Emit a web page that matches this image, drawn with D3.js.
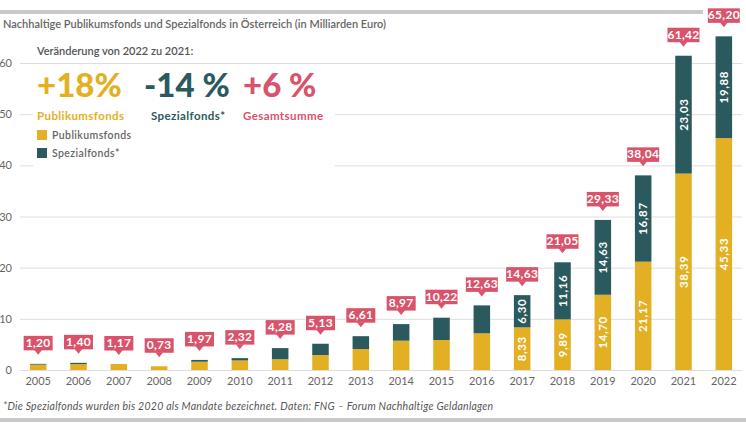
<!DOCTYPE html>
<html><head><meta charset="utf-8">
<script src="https://cdn.jsdelivr.net/npm/d3@7"></script>
<style>
html,body{margin:0;padding:0;background:#fff;}
svg{display:block;font-family:Lato,"Open Sans",sans-serif;}
</style></head>
<body><svg id="c" width="746" height="426"></svg>
<script>
const years = ["2005","2006","2007","2008","2009","2010","2011","2012","2013","2014","2015","2016","2017","2018","2019","2020","2021","2022"];
const publikum = [1.05,1.15,1.17,0.73,1.62,1.87,2.10,2.93,4.10,5.73,5.86,7.17,8.33,9.89,14.70,21.17,38.39,45.33];
const spezial  = [0.15,0.25,0.00,0.00,0.35,0.45,2.18,2.20,2.51,3.24,4.36,5.46,6.30,11.16,14.63,16.87,23.03,19.88];
const totals   = [1.20,1.40,1.17,0.73,1.97,2.32,4.28,5.13,6.61,8.97,10.22,12.63,14.63,21.05,29.33,38.04,61.42,65.20];
const segLabelFrom = "2017";
const yTicks = [0,10,20,30,40,50,60];

const YEL="#e3b024", TEAL="#2b5a5e", PINK="#d9536b", GRID="#dedede", GREY="#666";
const svg = d3.select("#c");
const fmt = v => d3.format(".2f")(v).replace(".", ",");

const x = d3.scaleBand().domain(years).range([18,744]).paddingInner(0.59).paddingOuter(0.295);
const y = d3.scaleLinear().domain([0,60]).range([370,63]);

// top/bottom grey rules
svg.append("rect").attr("x",0).attr("y",10).attr("width",703).attr("height",4).attr("fill","#c8c8c8");
svg.append("rect").attr("x",0).attr("y",418).attr("width",746).attr("height",4).attr("fill","#c8c8c8");

// title
svg.append("text").attr("x",3).attr("y",28).attr("font-size",11).attr("font-weight",600).attr("fill",GREY)
  .text("Nachhaltige Publikumsfonds und Spezialfonds in Österreich (in Milliarden Euro)");

// grid + y axis
const yAxis = d3.axisLeft(y).tickValues(yTicks).tickSize(-722).tickFormat(d=>d);
const ga = svg.append("g").attr("transform","translate(20,0)").call(yAxis);
ga.select(".domain").remove();
ga.selectAll(".tick line").attr("stroke",GRID).attr("stroke-width",1);
ga.selectAll(".tick text").attr("x",-8).attr("fill",GREY).attr("font-size",11).attr("font-family","Lato,sans-serif").attr("text-anchor","end");

// white panel behind callout
svg.append("rect").attr("x",33).attr("y",68).attr("width",302).attr("height",102).attr("fill","#fff");

// x axis
const xa = svg.append("g").attr("transform","translate(0,370)").call(d3.axisBottom(x).tickSize(0).tickPadding(7));
xa.select(".domain").remove();
xa.selectAll("text").attr("fill",GREY).attr("font-size",11).attr("font-family","Lato,sans-serif");

// bars
const data = years.map((yr,i)=>({yr,p:publikum[i],s:spezial[i],t:totals[i]}));
const g = svg.append("g");
g.selectAll("rect.p").data(data).join("rect").attr("class","p")
  .attr("x",d=>x(d.yr)).attr("width",x.bandwidth())
  .attr("y",d=>y(d.p)).attr("height",d=>y(0)-y(d.p)).attr("fill",YEL);
g.selectAll("rect.s").data(data).join("rect").attr("class","s")
  .attr("x",d=>x(d.yr)).attr("width",x.bandwidth())
  .attr("y",d=>y(d.p+d.s)).attr("height",d=>y(d.p)-y(d.p+d.s)).attr("fill",TEAL);

// segment labels
const segData = data.filter(d=>+d.yr>=+segLabelFrom);
function segLabel(v0,v1,val,d){
  const cx = x(d.yr)+x.bandwidth()/2, cy=(y(v0)+y(v1))/2;
  g.append("text").attr("transform",`translate(${cx+4},${cy}) rotate(-90)`)
   .attr("text-anchor","middle").attr("fill","#fff").attr("font-size",11.5).attr("font-weight",700)
   .attr("letter-spacing",0.6).text(fmt(val));
}
segData.forEach(d=>{ segLabel(0,d.p,d.p,d); segLabel(d.p,d.p+d.s,d.s,d); });

// total callouts
data.forEach(d=>{
  const cx = x(d.yr)+x.bandwidth()/2, top = y(d.p+d.s);
  const bb = top-14, bt = bb-14;
  const w = d.t>=10 ? 32 : 29;
  g.append("rect").attr("x",cx-w/2).attr("y",bt).attr("width",w).attr("height",14.5).attr("fill",PINK);
  g.append("path").attr("d",`M${cx-4},${bb}L${cx+4},${bb}L${cx},${bb+5}Z`).attr("fill",PINK);
  g.append("text").attr("x",cx).attr("y",bb-3).attr("text-anchor","middle").attr("fill","#fff")
   .attr("font-size",12).attr("font-weight",700).attr("letter-spacing",0.3).text(fmt(d.t));
});

// callout block
svg.append("text").attr("x",37).attr("y",55).attr("font-size",11).attr("font-weight",600).attr("fill","#555")
  .text("Veränderung von 2022 zu 2021:");
const big = [["+18%",37,YEL,"Publikumsfonds",37],["-14 %",144,TEAL,"Spezialfonds*",151],["+6 %",243,PINK,"Gesamtsumme",243]];
big.forEach(b=>{
  svg.append("text").attr("x",b[1]).attr("y",97).attr("font-size",33).attr("font-weight",900).attr("fill",b[2]).text(b[0]);
  svg.append("text").attr("x",b[4]).attr("y",120).attr("font-size",11.5).attr("font-weight",700).attr("fill",b[2]).attr("letter-spacing",0.4).text(b[3]);
});
const legend = [["Publikumsfonds",YEL],["Spezialfonds*",TEAL]];
legend.forEach((l,i)=>{
  svg.append("rect").attr("x",37).attr("y",130+i*18).attr("width",10).attr("height",10).attr("fill",l[1]);
  svg.append("text").attr("x",52).attr("y",139+i*18).attr("font-size",10.5).attr("font-weight",600).attr("fill",GREY).attr("letter-spacing",0.4).text(l[0]);
});

// footnote
svg.append("text").attr("x",3).attr("y",410).attr("font-size",10.5).attr("font-style","italic").attr("fill","#555").attr("letter-spacing",0.25)
  .text("*Die Spezialfonds wurden bis 2020 als Mandate bezeichnet. Daten: FNG – Forum Nachhaltige Geldanlagen");
</script></body></html>
